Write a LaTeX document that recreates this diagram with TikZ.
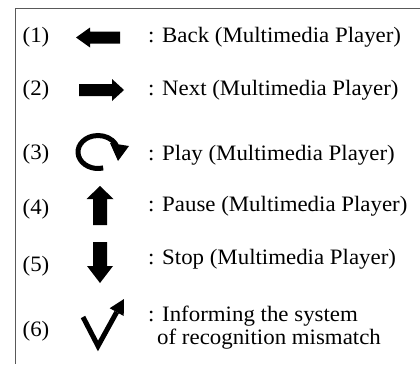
\documentclass[tikz,border=0pt]{standalone}
\usepackage{fontspec}
\setmainfont{Liberation Serif}[FakeStretch=1.04]
\usetikzlibrary{calc}

\begin{document}
\begin{tikzpicture}[
  x=1pt, y=-1pt,
  frame/.style = {draw=black!65, line width=0.9pt},
  icon/.style = {fill=black},
  stroke/.style = {draw=black, line width=5pt},
  num/.style = {font=\fontsize{22}{26}\selectfont, inner sep=0pt},
  desc/.style = {font=\fontsize{22}{26}\selectfont, anchor=base west, inner sep=0pt}
]

% Canvas
\useasboundingbox (0,0) rectangle (420,364);

% Parameters
\def\numx{36}
\def\descx{148}

% Frame (top and left edges only)
\draw[frame] (420,8) -- (15,8) -- (15,364);

% Numbers
\node[num] (num1) at (\numx,37.5) {(1)};
\node[num] (num2) at (\numx,90) {(2)};
\node[num] (num3) at (\numx,154) {(3)};
\node[num] (num4) at (\numx,209) {(4)};
\node[num] (num5) at (\numx,266) {(5)};
\node[num] (num6) at (\numx,331) {(6)};

% Descriptions
\node[desc] (txt1) at (\descx,42) {: Back (Multimedia Player)};
\node[desc] (txt2) at (\descx,95) {: Next (Multimedia Player)};
\node[desc] (txt3) at (\descx,160) {: Play (Multimedia Player)};
\node[desc] (txt4) at (\descx,211) {: Pause (Multimedia Player)};
\node[desc] (txt5) at (\descx,264) {: Stop (Multimedia Player)};
\node[desc] (txt6) at (\descx,321) {: Informing the system};
\node[desc] (txt6b) at (157,344) {of recognition mismatch};

% (1) back arrow
\fill[icon] (76,37.5) -- (90,27.5) -- (90,31.5) -- (120,31.5)
  -- (120,43.5) -- (90,43.5) -- (90,47.5) -- cycle;

% (2) next arrow
\fill[icon] (124,90) -- (112,79) -- (112,84) -- (79,84)
  -- (79,96) -- (112,96) -- (112,101) -- cycle;

% (3) play, round arrow
\coordinate (c3) at (98,152);
\draw[stroke] ($(c3)+(75:20 and 16.5)$) arc[start angle=75, end angle=350, x radius=20, y radius=16.5];
\fill[icon] (110,143) -- (129,146) -- (118,161) -- cycle;

% (4) pause arrow
\fill[icon] (100,186) -- (113.5,199) -- (107,199) -- (107,225)
  -- (93,225) -- (93,199) -- (86.5,199) -- cycle;

% (5) stop arrow
\fill[icon] (100,283) -- (113,266) -- (107,266) -- (107,242)
  -- (93,242) -- (93,266) -- (87,266) -- cycle;

% (6) tick with arrow
\draw[stroke] (83,317) -- (98,346) -- (116.7,312.1);
\fill[icon] (124,299) -- (123.7,316) -- (109.7,308.2) -- cycle;

\end{tikzpicture}
\end{document}
